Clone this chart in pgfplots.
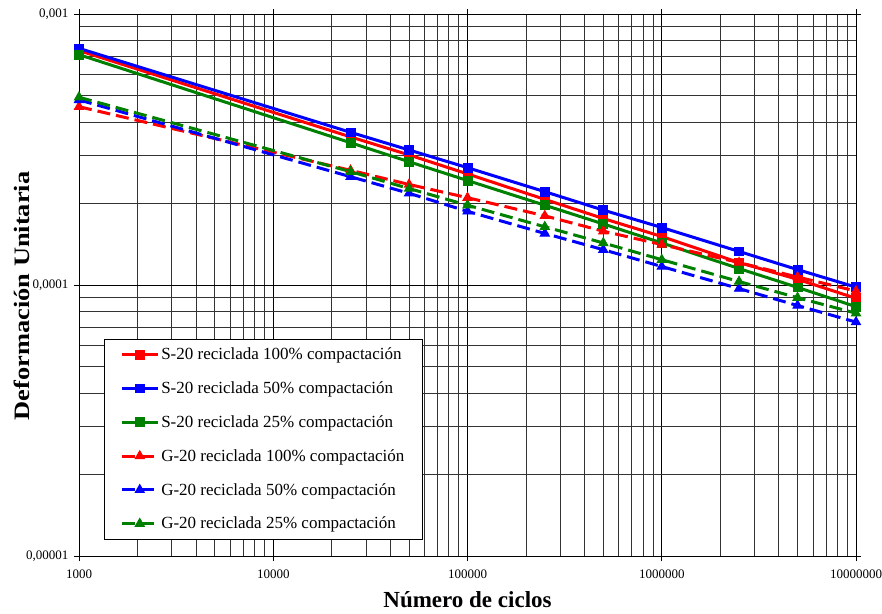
\documentclass[border=0pt]{standalone}
\usepackage{fontspec}
\setmainfont{Liberation Serif}
\usepackage{graphicx}
\usepackage{pgfplots}
\pgfplotsset{compat=1.18}
\definecolor{cred}{RGB}{255,0,0}
\definecolor{cblue}{RGB}{0,0,255}
\definecolor{cgreen}{RGB}{0,128,0}
\begin{document}
\begin{tikzpicture}
\useasboundingbox (-79pt,-57pt) rectangle (803pt,556pt);
\begin{loglogaxis}[
  at={(0pt,0pt)}, anchor=south west,
  scale only axis, width=777pt, height=542pt,
  xmin=1000, xmax=1e7, ymin=1e-5, ymax=1e-3,
  xtick={1000,10000,100000,1000000,10000000},
  xticklabels={1000,10000,100000,1000000,10000000},
  ytick={1e-5,1e-4,1e-3},
  yticklabels={{0,00001},{0,0001},{0,001}},
  /pgf/number format/assume math mode=true,
  tick label style={font=\fontsize{13}{15}\selectfont},
  xticklabel style={yshift=-5pt},
  yticklabel style={xshift=-2pt},
  grid=both,
  major grid style={black, line width=0.7pt},
  minor grid style={black!80, line width=0.6pt},
  axis line style={black, line width=1pt},
  tick align=outside, major tick length=5pt, minor tick length=0pt,
  tick style={black, line width=0.8pt},
  xlabel={\textbf{Número de ciclos}},
  ylabel={\scalebox{1.2}[1]{\textbf{Deformación Unitaria}}},
  xlabel style={font=\fontsize{23}{25}\selectfont, at={(axis description cs:0.5,0)}, anchor=base, yshift=-51pt, inner sep=0pt},
  ylabel style={font=\fontsize{22}{24}\selectfont, at={(axis description cs:0,0.48)}, anchor=center, yshift=57pt, inner sep=0pt},
  legend style={at={(0.032,0.03)}, anchor=south west, draw=black, line width=0.8pt,
    font=\fontsize{17}{19}\selectfont, row sep=16.5pt, inner xsep=16pt, inner ysep=7pt,
    cells={anchor=west}},
  legend image code/.code={\draw[mark repeat=2,mark phase=2] plot coordinates {(0pt,0pt) (18pt,0pt) (36pt,0pt)};},
  legend cell align=left,
  sq/.style={line width=3pt, mark=square*, mark size=4.4pt, mark options={solid, line width=0.8pt}},
  tr/.style={line width=3pt, dash pattern=on 13pt off 6pt, mark=triangle*, mark size=5.4pt, mark options={solid, line width=0.8pt}},
]
\addplot[cred, sq] coordinates {
(1000,7.33e-4) (25000,3.52e-4) (50000,3.02e-4) (100000,2.57e-4) (250000,2.07e-4)
(500000,1.76e-4) (1000000,1.51e-4) (2500000,1.21e-4) (5000000,1.05e-4) (10000000,8.93e-5)};
\addlegendentry{S-20 reciclada 100\% compactación}
\addplot[cblue, sq] coordinates {
(1000,7.47e-4) (25000,3.66e-4) (50000,3.15e-4) (100000,2.71e-4) (250000,2.21e-4)
(500000,1.89e-4) (1000000,1.63e-4) (2500000,1.33e-4) (5000000,1.14e-4) (10000000,9.82e-5)};
\addlegendentry{S-20 reciclada 50\% compactación}
\addplot[cgreen, sq] coordinates {
(1000,7.08e-4) (25000,3.35e-4) (50000,2.85e-4) (100000,2.43e-4) (250000,1.97e-4)
(500000,1.68e-4) (1000000,1.43e-4) (2500000,1.15e-4) (5000000,9.8e-5) (10000000,8.32e-5)};
\addlegendentry{S-20 reciclada 25\% compactación}
\addplot[cred, tr] coordinates {
(1000,4.55e-4) (25000,2.65e-4) (50000,2.35e-4) (100000,2.1e-4) (250000,1.8e-4)
(500000,1.58e-4) (1000000,1.41e-4) (2500000,1.21e-4) (5000000,1.07e-4) (10000000,9.5e-5)};
\addlegendentry{G-20 reciclada 100\% compactación}
\addplot[cblue, tr] coordinates {
(1000,4.82e-4) (25000,2.51e-4) (50000,2.18e-4) (100000,1.87e-4) (250000,1.55e-4)
(500000,1.35e-4) (1000000,1.17e-4) (2500000,9.7e-5) (5000000,8.4e-5) (10000000,7.3e-5)};
\addlegendentry{G-20 reciclada 50\% compactación}
\addplot[cgreen, tr] coordinates {
(1000,4.93e-4) (25000,2.62e-4) (50000,2.27e-4) (100000,1.97e-4) (250000,1.64e-4)
(500000,1.43e-4) (1000000,1.24e-4) (2500000,1.03e-4) (5000000,8.98e-5) (10000000,7.87e-5)};
\addlegendentry{G-20 reciclada 25\% compactación}
\end{loglogaxis}
\end{tikzpicture}
\end{document}
